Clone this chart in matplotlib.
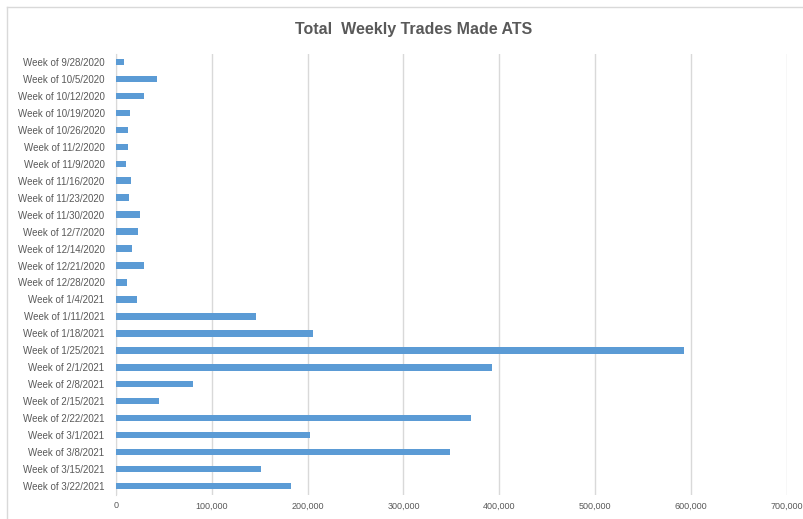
import matplotlib.pyplot as plt
from matplotlib.lines import Line2D
from matplotlib.ticker import FuncFormatter

weeks = ["9/28/2020", "10/5/2020", "10/12/2020", "10/19/2020", "10/26/2020",
         "11/2/2020", "11/9/2020", "11/16/2020", "11/23/2020", "11/30/2020",
         "12/7/2020", "12/14/2020", "12/21/2020", "12/28/2020", "1/4/2021",
         "1/11/2021", "1/18/2021", "1/25/2021", "2/1/2021", "2/8/2021",
         "2/15/2021", "2/22/2021", "3/1/2021", "3/8/2021", "3/15/2021",
         "3/22/2021"]
trades = [8600, 42700, 29000, 14600, 13000,
          13000, 11000, 15600, 13900, 25300,
          23600, 16700, 29000, 11800, 21900,
          146000, 206000, 593000, 392000, 81000,
          45500, 370000, 203000, 349000, 151500,
          183000]
labels = ["Week of " + w for w in weeks]

plt.rcParams['font.family'] = ['Liberation Sans', 'DejaVu Sans']

fig = plt.figure(figsize=(8.04, 5.19), dpi=100)
ax = fig.add_axes([0.1439, 0.0472, 0.8351, 0.8497])

ypos = list(range(len(weeks)))
ax.barh(ypos, trades, height=0.38, color='#5B9BD5', zorder=3)
ax.set_ylim(len(weeks) - 0.5, -0.5)
ax.set_yticks(ypos)
ax.set_yticklabels(labels)
ax.set_xlim(0, 700000)
ax.set_xticks(range(0, 700001, 100000))
ax.xaxis.set_major_formatter(FuncFormatter(lambda v, p: f"{int(v):,}"))

ax.grid(axis='x', color='#D9D9D9', linewidth=1, zorder=0)
for s in ['top', 'right', 'bottom']:
    ax.spines[s].set_visible(False)
ax.spines['left'].set_color('#D9D9D9')
ax.tick_params(axis='y', length=0, labelsize=7, colors='#595959', pad=8)
ax.tick_params(axis='x', length=0, labelsize=6.5, colors='#595959', pad=5)

fig.text(0.514, 0.944, "Total  Weekly Trades Made ATS", ha='center', va='center',
         fontsize=11.5, fontweight='bold', color='#595959')

# chart border
fig.add_artist(Line2D([7 / 804, 7 / 804], [0, 1 - 7 / 519], color='#D9D9D9', lw=1))
fig.add_artist(Line2D([7 / 804, 1], [1 - 7 / 519, 1 - 7 / 519], color='#D9D9D9', lw=1))

fig.savefig('out.png', dpi=100)
